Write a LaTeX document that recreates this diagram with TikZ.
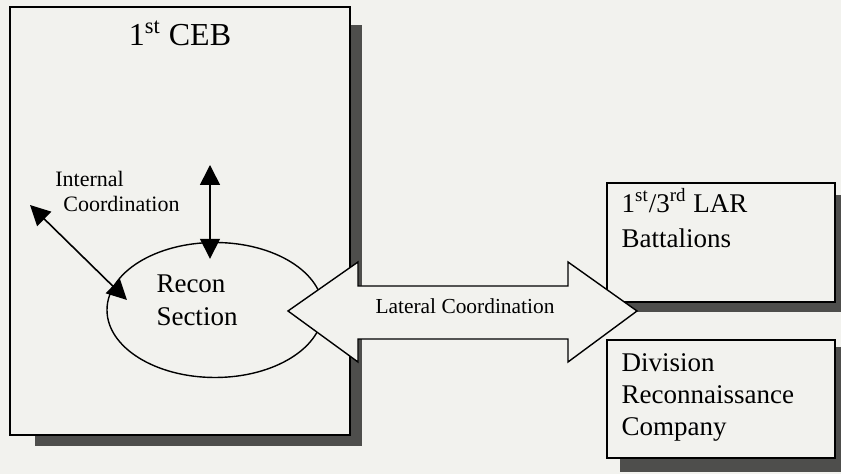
\documentclass[tikz,border=0pt]{standalone}
\usepackage{fontspec}
\setmainfont{Liberation Serif}
\usetikzlibrary{positioning,arrows.meta,shapes.geometric}
\definecolor{paper}{RGB}{242,242,238}
\definecolor{shadowgray}{RGB}{78,78,76}

\begin{document}
\begin{tikzpicture}[x=0.5pt,y=-0.5pt]
  \tikzset{box/.style={draw,line width=0.7pt,fill=paper,rectangle,inner sep=0pt},
    txt/.style={inner sep=0pt,align=left},
    dbl/.style={{Triangle[length=10pt,width=10pt]}-{Triangle[length=10pt,width=10pt]},line width=0.8pt}}
  \fill[paper] (0,0) rectangle (841,474);
  \useasboundingbox (0,0) rectangle (841,474);
  % drop shadows
  \fill[shadowgray] (35,25) rectangle (362,446);
  \fill[shadowgray] (620,195) rectangle (841,312);
  \fill[shadowgray] (620,347) rectangle (841,472);
  % boxes
  \node[box,minimum width=170pt,minimum height=214pt] (ceb) at (180,221) {};
  \node[box,minimum width=114pt,minimum height=59.5pt] (lar) at (721,242.5) {};
  \node[box,minimum width=114pt,minimum height=59pt] (div) at (721,399) {};
  \node[txt,font=\fontsize{16}{19}\selectfont,below=7pt of ceb.north] (cebtitle) {1\textsuperscript{st} CEB};
  \node[txt,anchor=north west,font=\fontsize{13.5}{16}\selectfont] (lartxt)
    at ([shift={(15,6)}]lar.north west) {1\textsuperscript{st}/3\textsuperscript{rd} LAR\\[1.5pt]Battalions};
  \node[txt,anchor=north west,font=\fontsize{13.5}{16}\selectfont] (divtxt)
    at ([shift={(15,14)}]div.north west) {Division\\Reconnaissance\\Company};
  % recon section
  \node[draw,ellipse,line width=0.7pt,minimum width=108pt,minimum height=67.5pt,inner sep=0pt] (recon) at (215,310) {};
  \node[txt,font=\fontsize{13.5}{16.5}\selectfont] (recontxt) at ([shift={(-18,-10)}]recon.center) {Recon\\Section};
  % internal coordination
  \coordinate (dtop) at (30,205);
  \coordinate (vtop) at (210,165);
  \draw[dbl] (dtop) -- ([shift={(-88,-10)}]recon.center);
  \draw[dbl] (vtop) -- ([shift={(-5,17)}]recon.north);
  \node[txt,anchor=north west,font=\fontsize{11}{12.5}\selectfont] (inttxt) at (55,171) {Internal\\\hspace*{4pt}Coordination};
  % lateral coordination
  \draw[line width=0.7pt,fill=paper] (288,311) -- (358,262) -- (358,286) -- (568,286) -- (568,262)
    -- (637,311) -- (568,362) -- (568,339) -- (358,339) -- (358,362) -- cycle;
  \node[txt,font=\fontsize{10.7}{12}\selectfont] (lattxt) at (465,306) {Lateral Coordination};
\end{tikzpicture}
\end{document}
